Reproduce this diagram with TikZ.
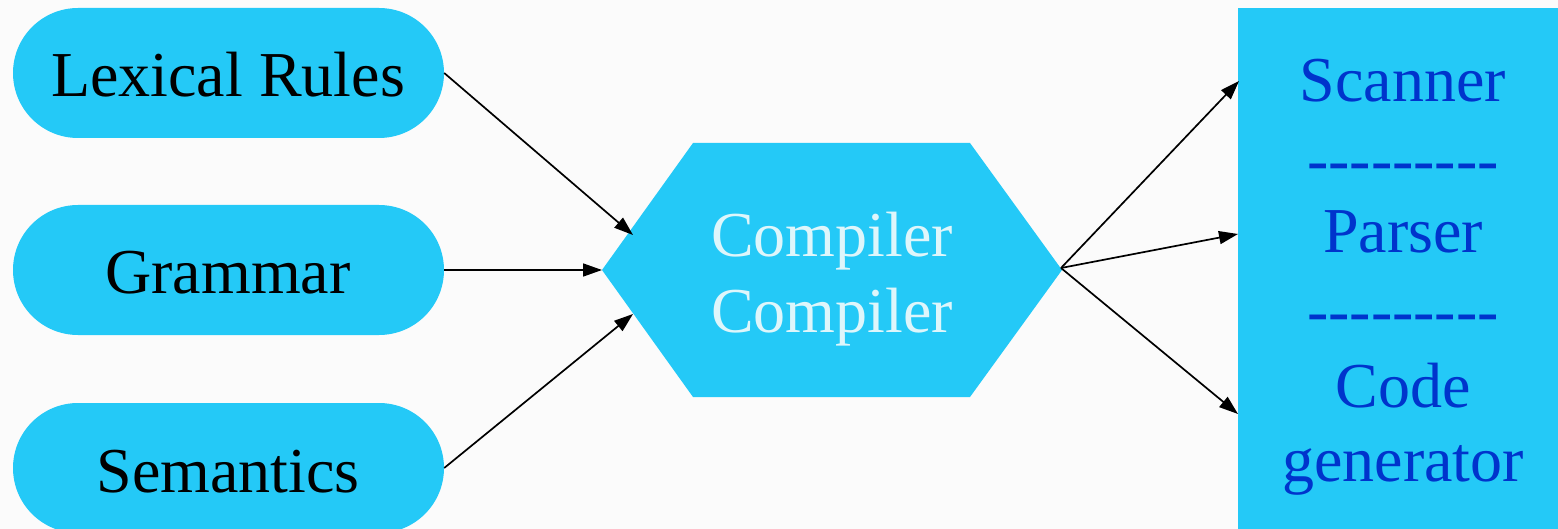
\documentclass[tikz,border=0pt]{standalone}
\usepackage{fontspec}
\setmainfont{Liberation Serif}
\newfontfamily\timesface{Liberation Serif}
\usetikzlibrary{arrows.meta}
\definecolor{boxcyan}{RGB}{36,201,247}
\definecolor{palecyan}{RGB}{222,246,251}
\definecolor{deepblue}{RGB}{0,52,204}
\definecolor{paper}{RGB}{251,251,251}
\tikzset{
  pill/.style={fill=boxcyan, rounded corners=65pt, minimum width=431pt,
    minimum height=130pt, inner sep=0pt},
  bigtext/.style={font=\timesface\fontsize{64}{76}\selectfont, inner sep=0pt, anchor=base},
  flow/.style={line width=1.7pt, -{Triangle[length=19pt,width=13pt]}},
}
\begin{document}
\begin{tikzpicture}[x=1pt,y=-1pt]
  \fill[paper] (0,0) rectangle (1558,529);
  \useasboundingbox (0,0) rectangle (1558,529);

  % input descriptions
  \node[pill] (lex) at (228.5,73) {};
  \node[pill] (gram) at (228.5,270) {};
  \node[pill] (sem) at (228.5,468) {};
  \node[bigtext] (lext) at (228,97) {Lexical Rules};
  \node[bigtext] (gramt) at (228,294) {Grammar};
  \node[bigtext] (semt) at (228,492) {Semantics};

  % the compiler-compiler hexagon
  \fill[boxcyan] (602,270) -- (693,143) -- (970,143) -- (1062,270)
    -- (970,397) -- (693,397) -- cycle;
  \coordinate (hexw) at (602,270);
  \coordinate (hexe) at (1061,268);
  \coordinate (hexnw) at (633,235);
  \coordinate (hexsw) at (633,314);
  \node[bigtext, text=palecyan] (cc1) at (832,257) {Compiler};
  \node[bigtext, text=palecyan] (cc2) at (832,333) {Compiler};

  % generated components
  \fill[boxcyan] (1238,8) rectangle (1570,540);
  \coordinate (outa) at (1239,81);
  \coordinate (outb) at (1238,234);
  \coordinate (outc) at (1238,414);
  \begin{scope}[every node/.style={bigtext, text=deepblue}]
    \node (scan) at (1403,102) {Scanner};
    \node (sepa) at (1403,182) {-{}-{}-{}-{}-{}-{}-{}-{}-};
    \node (pars) at (1403,253) {Parser};
    \node (sepb) at (1403,332) {-{}-{}-{}-{}-{}-{}-{}-{}-};
    \node (code) at (1403,407) {Code};
    \node (cgen) at (1403,481) {generator};
  \end{scope}

  % connectors
  \draw[flow] (lex.east) -- (hexnw);
  \draw[flow] (gram.east) -- (hexw);
  \draw[flow] (sem.east) -- (hexsw);
  \draw[flow] (hexe) -- (outa);
  \draw[flow] (hexe) -- (outb);
  \draw[flow] (hexe) -- (outc);
\end{tikzpicture}
\end{document}
